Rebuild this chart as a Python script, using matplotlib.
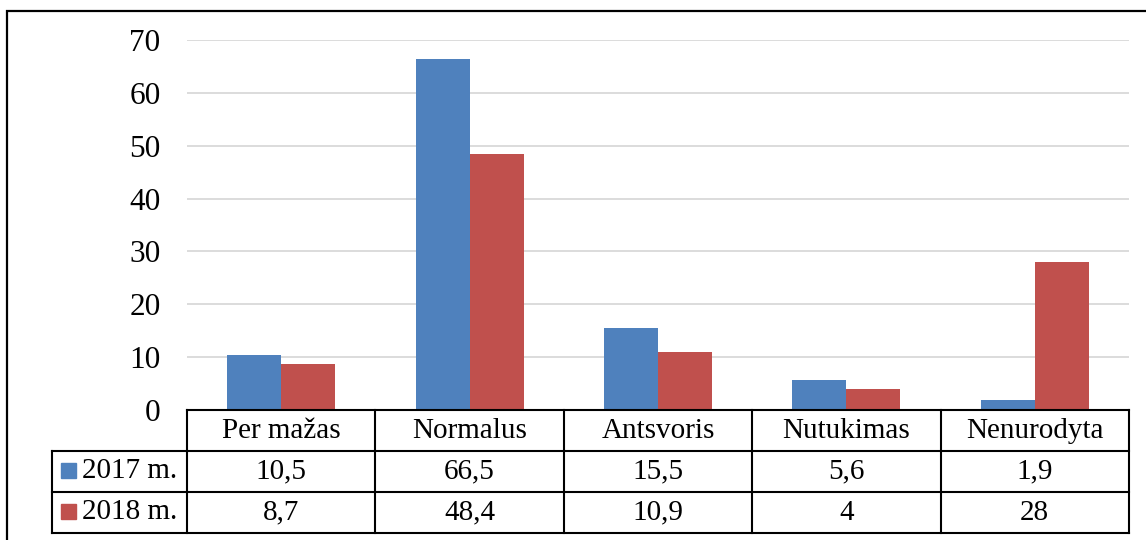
import matplotlib.pyplot as plt
from matplotlib.patches import Rectangle

categories = ["Per mažas", "Normalus", "Antsvoris", "Nutukimas", "Nenurodyta"]
series_names = ["2017 m.", "2018 m."]
values_2017 = [10.5, 66.5, 15.5, 5.6, 1.9]
values_2018 = [8.7, 48.4, 10.9, 4, 28]
colors = ["#4F81BD", "#C0504D"]

plt.rcParams["font.family"] = ["Liberation Serif", "DejaVu Serif"]

W, H = 1146, 540
fig = plt.figure(figsize=(W / 100, H / 100), dpi=100)

# outer chart border
fig.patches.append(Rectangle((7 / W, -0.01), 1.1, 1 - 11 / H + 0.01,
                             transform=fig.transFigure, fill=False,
                             edgecolor="black", linewidth=1.6))

left, right = 187 / W, 1129 / W
bottom, top = 1 - 410 / H, 1 - 40 / H
ax = fig.add_axes([left, bottom, right - left, top - bottom])

x = range(len(categories))
bw = 0.287
ax.bar([i - bw / 2 for i in x], values_2017, width=bw, color=colors[0], zorder=3)
ax.bar([i + bw / 2 for i in x], values_2018, width=bw, color=colors[1], zorder=3)

ax.set_xlim(-0.5, len(categories) - 0.5)
ax.set_ylim(0, 70)
ax.set_yticks(range(0, 71, 10))
ax.yaxis.grid(True, color="#D9D9D9", linewidth=1.3)
ax.set_axisbelow(True)
ax.set_xticks([])
ax.tick_params(axis="y", length=0, pad=19, labelsize=22.5)
for s in ax.spines.values():
    s.set_visible(False)

# data table under the bars
slot = (1129 - 187) / len(categories)
lab_w = (187 - 52) / slot
tb_bottom, tb_top = 1 - 533 / H, 1 - 410 / H
tx0 = 52 / W
tab = fig.add_axes([tx0, tb_bottom, right - tx0, tb_top - tb_bottom])
tab.set_xlim(-0.5 - lab_w, len(categories) - 0.5)
tab.set_ylim(3, 0)
tab.axis("off")

lw = 1.5
x0, x1 = -0.5, len(categories) - 0.5
xl = -0.5 - lab_w
# horizontal lines
tab.plot([x0, x1], [0, 0], color="black", lw=lw, clip_on=False)
for yy in (1, 2, 3):
    tab.plot([xl, x1], [yy, yy], color="black", lw=lw, clip_on=False)
# vertical lines
tab.plot([xl, xl], [1, 3], color="black", lw=lw, clip_on=False)
for i in range(len(categories) + 1):
    tab.plot([i - 0.5, i - 0.5], [0, 3], color="black", lw=lw, clip_on=False)

fs = 21
for i, c in enumerate(categories):
    tab.text(i, 0.5, c, ha="center", va="center", fontsize=fs)
    tab.text(i, 1.5, f"{values_2017[i]:g}".replace(".", ","),
             ha="center", va="center", fontsize=fs)
    tab.text(i, 2.5, f"{values_2018[i]:g}".replace(".", ","),
             ha="center", va="center", fontsize=fs)

for r, (name, col) in enumerate(zip(series_names, colors)):
    fig.patches.append(Rectangle((61 / W, 1 - (471 + 41 * r + 7) / H), 15 / W, 15 / H,
                                 transform=fig.transFigure, color=col))
    fig.text(82 / W, 1 - (471 + 41 * r) / H, name, ha="left", va="center", fontsize=fs)

fig.savefig("out.png", dpi=100)
